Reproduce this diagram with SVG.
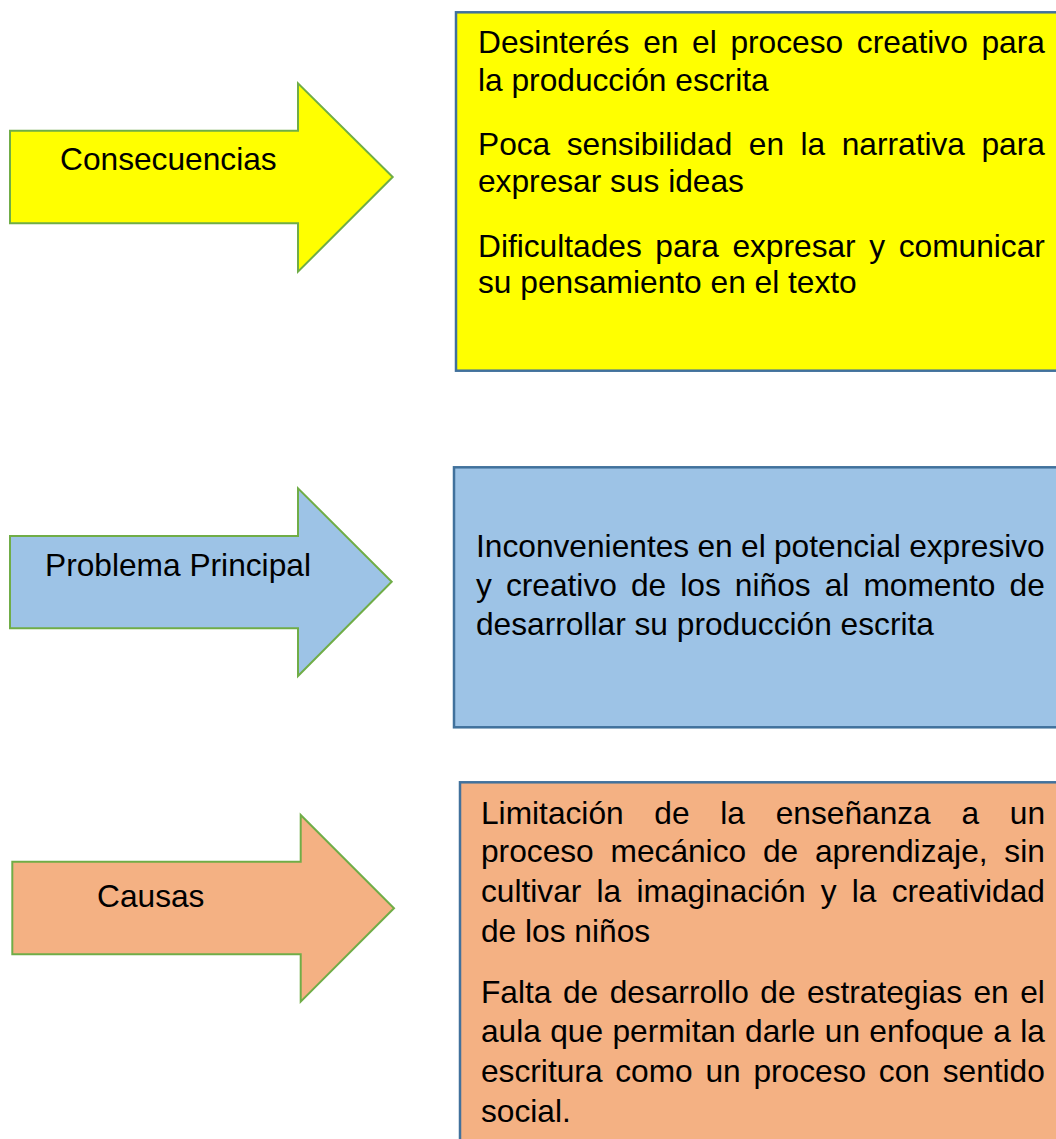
<svg xmlns="http://www.w3.org/2000/svg" width="1056" height="1139" viewBox="0 0 1056 1139">
<style>
text{font-family:"Liberation Sans",Arial,sans-serif;font-size:31.7px;fill:#000}
.arrow{stroke:#70AD47;stroke-width:2;stroke-linejoin:miter}
.box{stroke:#41719C;stroke-width:2.5}
</style>
<rect width="1056" height="1139" fill="#fff"/>
<g id="connectors"></g>
<g id="arrow-consecuencias">
<polygon class="arrow" fill="#FFFF00" points="10,130.7 298,130.7 298,83.3 392.7,177 298,271.7 298,223.3 10,223.3"/>
<text x="60" y="170">Consecuencias</text>
</g>
<g id="box-consecuencias">
<rect class="box" fill="#FFFF00" x="456" y="12.3" width="620" height="358.4"/>
<text x="478" y="53.3" style="word-spacing:4.87px">Desinterés en el proceso creativo para</text>
<text x="478" y="91">la producción escrita</text>
<text x="478" y="155" style="word-spacing:7.68px">Poca sensibilidad en la narrativa para</text>
<text x="478" y="192">expresar sus ideas</text>
<text x="478" y="256.7" style="word-spacing:4.78px">Dificultades para expresar y comunicar</text>
<text x="478" y="293.3">su pensamiento en el texto</text>
</g>
<g id="arrow-problema">
<polygon class="arrow" fill="#9DC3E6" points="10,536 298,536 298,488.3 391.7,581.7 298,676 298,628.3 10,628.3"/>
<text x="45" y="575.5">Problema Principal</text>
</g>
<g id="box-problema">
<rect class="box" fill="#9DC3E6" x="454" y="467.3" width="620" height="260"/>
<text x="476" y="557.3" style="word-spacing:-0.5px">Inconvenientes en el potencial expresivo</text>
<text x="476" y="596" style="word-spacing:5.27px">y creativo de los niños al momento de</text>
<text x="476" y="635">desarrollar su producción escrita</text>
</g>
<g id="arrow-causas">
<polygon class="arrow" fill="#F4B183" points="12.3,861.7 300.7,861.7 300.7,815 394,908.3 300.7,1001.7 300.7,954.3 12.3,954.3"/>
<text x="97" y="907">Causas</text>
</g>
<g id="box-causas">
<rect class="box" fill="#F4B183" x="460" y="782.3" width="620" height="380"/>
<text x="481" y="824" style="word-spacing:21.9px">Limitación de la enseñanza a un</text>
<text x="481" y="862" style="word-spacing:7.98px">proceso mecánico de aprendizaje, sin</text>
<text x="481" y="902" style="word-spacing:6.4px">cultivar la imaginación y la creatividad</text>
<text x="481" y="942">de los niños</text>
<text x="481" y="1003" style="word-spacing:2.67px">Falta de desarrollo de estrategias en el</text>
<text x="481" y="1042" style="word-spacing:0.51px">aula que permitan darle un enfoque a la</text>
<text x="481" y="1082" style="word-spacing:3.92px">escritura como un proceso con sentido</text>
<text x="481" y="1122">social.</text>
</g>
</svg>
